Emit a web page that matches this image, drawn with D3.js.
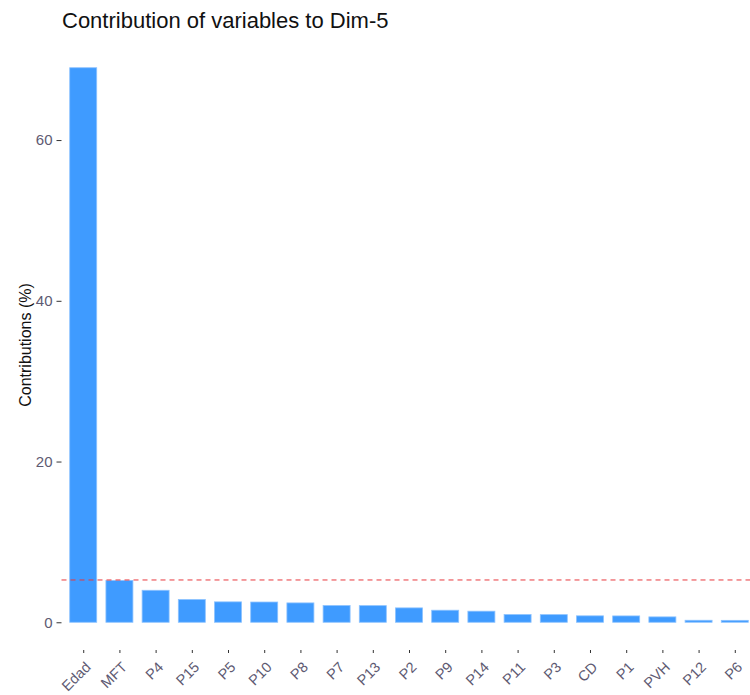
<!DOCTYPE html>
<html><head><meta charset="utf-8">
<script src="https://cdn.jsdelivr.net/npm/d3@7"></script>
<style>body{margin:0;background:#fff;} svg{display:block;font-family:"Liberation Sans",Arial,sans-serif;}</style>
</head><body>
<svg id="c" width="750" height="695"></svg>
<script>
const categories = ["Edad","MFT","P4","P15","P5","P10","P8","P7","P13","P2","P9","P14","P11","P3","CD","P1","PVH","P12","P6"];
const contributions = [69.0,5.2,3.98,2.83,2.54,2.52,2.41,2.08,2.07,1.79,1.5,1.38,0.96,0.95,0.80,0.79,0.67,0.25,0.24];
const yTicks = [0,20,40,60];
const expected = 100 / categories.length;

const svg = d3.select("#c");
const panel = {left:61.5, right:756.5, top:40, bottom:650};
const step = (panel.right - panel.left) / (categories.length - 1 + 1.2);
const x = d3.scalePoint().domain(categories)
  .range([panel.left + 0.6*step, panel.right - 0.6*step]);
const barW = 27;
const maxV = d3.max(contributions);
const y = d3.scaleLinear().domain([-0.05*maxV, maxV*1.05]).range([panel.bottom, panel.top]);
const labCol = "#5e5a72";

svg.append("g").selectAll("rect").data(categories).join("rect")
  .attr("x", d => x(d) - barW/2).attr("width", barW)
  .attr("y", (d,i) => y(contributions[i]))
  .attr("height", (d,i) => y(0) - y(contributions[i]))
  .attr("fill", "#3f9bff").attr("stroke", "#8cc2ff").attr("stroke-width", 0.8);

svg.append("line").attr("x1", panel.left).attr("x2", 750)
  .attr("y1", y(expected)).attr("y2", y(expected))
  .attr("stroke", "#e8383d").attr("stroke-width", 1).attr("stroke-dasharray", "5,4");

const yAxis = svg.append("g").attr("transform", `translate(${panel.left},0)`)
  .call(d3.axisLeft(y).tickValues(yTicks).tickSize(5).tickPadding(4));
yAxis.select(".domain").remove();
yAxis.selectAll("line").attr("stroke", "#333");
yAxis.selectAll("text").attr("fill", labCol).style("font-size", "15px").style("font-family", "Liberation Sans, Arial, sans-serif");

const xAxis = svg.append("g").attr("transform", `translate(0,${panel.bottom})`)
  .call(d3.axisBottom(x).tickSize(3).tickPadding(4));
xAxis.select(".domain").remove();
xAxis.selectAll("line").attr("stroke", "#333");
xAxis.selectAll("text").attr("fill", labCol).style("font-size", "14.5px")
  .style("font-family", "Liberation Sans, Arial, sans-serif")
  .attr("text-anchor", "end").attr("dy", "0").attr("y", 0)
  .attr("transform", "translate(8,18) rotate(-45)");

svg.append("text").attr("x", 62).attr("y", 28).text("Contribution of variables to Dim-5")
  .style("font-size", "22px").attr("fill", "#111");

svg.append("text").attr("transform", "translate(31,345) rotate(-90)")
  .attr("text-anchor", "middle").text("Contributions (%)")
  .style("font-size", "16px").attr("fill", "#111");
</script>
</body></html>
